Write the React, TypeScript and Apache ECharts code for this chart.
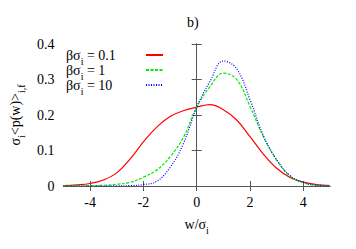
import React, { useEffect, useRef } from "react";
import * as echarts from "echarts";

const wValues = [-5, -4.5, -4, -3.5, -3, -2.5, -2, -1.5, -1, -0.5, 0, 0.5, 1, 1.5, 2, 2.5, 3, 3.5, 4, 4.5, 5];
const red01 = [0.001, 0.003, 0.007, 0.017, 0.037, 0.076, 0.124, 0.166, 0.196, 0.212, 0.222, 0.229, 0.215, 0.186, 0.139, 0.09, 0.05, 0.024, 0.011, 0.004, 0.001];
const green1 = [0, 0.0005, 0.001, 0.002, 0.005, 0.01, 0.025, 0.045, 0.082, 0.137, 0.222, 0.28, 0.318, 0.3, 0.224, 0.139, 0.073, 0.028, 0.009, 0.002, 0.0005];
const blue10 = [0, 0, 0, 0, 0.0005, 0.001, 0.004, 0.013, 0.052, 0.119, 0.222, 0.295, 0.352, 0.33, 0.243, 0.142, 0.074, 0.029, 0.01, 0.002, 0];
const legendNames = ["0.1", "1", "10"];
const xTicks = [-4, -2, 0, 2, 4];

const FONT = "'Liberation Serif', 'Times New Roman', 'DejaVu Serif', serif";

export default function App() {
  const ref = useRef<HTMLDivElement>(null);
  useEffect(() => {
    if (!ref.current) return;
    const chart = echarts.init(ref.current, null, { renderer: "svg" });
    const mk = (vals: number[]) => wValues.map((w, i) => [w, vals[i]]);
    const axisColor = "#555";
    const richBase = {
      a: { fontFamily: FONT, fontSize: 14, color: "#000", lineHeight: 16, align: "left" as const },
      s: { fontFamily: FONT, fontSize: 10, color: "#000", lineHeight: 10, verticalAlign: "bottom" as const, padding: [0, 0, -3, 0], align: "left" as const },
    };
    const xCommon = {
      type: "value" as const,
      min: -5,
      max: 5,
      axisLine: { show: true, lineStyle: { color: axisColor, width: 1 } },
      splitLine: { show: false },
    };
    const yCommon = {
      type: "value" as const,
      min: 0,
      max: 0.4,
      interval: 0.1,
      axisLine: { show: true, lineStyle: { color: axisColor, width: 1 } },
      splitLine: { show: false },
    };
    chart.setOption({
      animation: false,
      title: {
        text: "b)",
        left: 187,
        top: 15,
        padding: 0,
        textStyle: { fontFamily: FONT, fontSize: 14, fontWeight: "normal", color: "#000" },
      },
      grid: { left: 58, right: 26, top: 44, bottom: 63, containLabel: false },
      legend: {
        orient: "vertical",
        left: 66,
        top: 48,
        align: "right",
        itemGap: -3,
        itemWidth: 17,
        itemHeight: 8,
        padding: 0,
        itemStyle: { opacity: 0, borderWidth: 0 },
        formatter: (name: string) => `{a|βσ}{s|i}{a| = ${name}}`,
        textStyle: { width: 75, align: "left", rich: richBase },
        data: legendNames,
      },
      xAxis: [
        {
          ...xCommon,
          position: "bottom",
          name: "{a|w/σ}{s|i}",
          nameLocation: "middle",
          nameGap: 30,
          nameTextStyle: { rich: richBase },
          axisTick: { show: true, inside: true, length: 5, customValues: xTicks, lineStyle: { color: axisColor } },
          axisLabel: { show: true, customValues: xTicks, margin: 9, fontFamily: FONT, fontSize: 14, color: "#000" },
        },
        {
          ...xCommon,
          position: "top",
          axisTick: { show: true, inside: true, length: 5, customValues: xTicks, lineStyle: { color: axisColor } },
          axisLabel: { show: false },
        },
      ],
      yAxis: [
        {
          ...yCommon,
          position: "left",
          name: "{a|σ}{s|i}{a|<p(w)>}{s|i,f}",
          nameLocation: "middle",
          nameRotate: 90,
          nameGap: 35,
          nameTextStyle: { rich: richBase },
          axisTick: { show: true, inside: true, length: 5, lineStyle: { color: axisColor } },
          axisLabel: { show: true, margin: 9, fontFamily: FONT, fontSize: 14, color: "#000", formatter: (v: number) => (v === 0 ? "0" : String(Math.round(v * 10) / 10)) },
        },
        {
          ...yCommon,
          position: "right",
          axisTick: { show: true, inside: true, length: 5, lineStyle: { color: axisColor } },
          axisLabel: { show: false },
        },
      ],
      series: [
        {
          name: legendNames[0],
          type: "line",
          data: mk(red01),
          smooth: 0.4,
          showSymbol: false,
          symbol: "none",
          lineStyle: { color: "#ff0000", width: 1.2, type: "solid" },
          itemStyle: { color: "#ff0000" },
        },
        {
          name: legendNames[1],
          type: "line",
          data: mk(green1),
          smooth: 0.4,
          showSymbol: false,
          symbol: "none",
          lineStyle: { color: "#00ee00", width: 1.2, type: [3, 1.5] },
          itemStyle: { color: "#00ee00" },
        },
        {
          name: legendNames[2],
          type: "line",
          data: mk(blue10),
          smooth: 0.4,
          showSymbol: false,
          symbol: "none",
          lineStyle: { color: "#0000ff", width: 1.2, type: [1, 1.5] },
          itemStyle: { color: "#0000ff" },
        },
      ],
    });
    return () => chart.dispose();
  }, []);
  return <div ref={ref} style={{ position: "fixed", left: 0, top: 0, width: 356, height: 249, background: "#fff" }} />;
}
